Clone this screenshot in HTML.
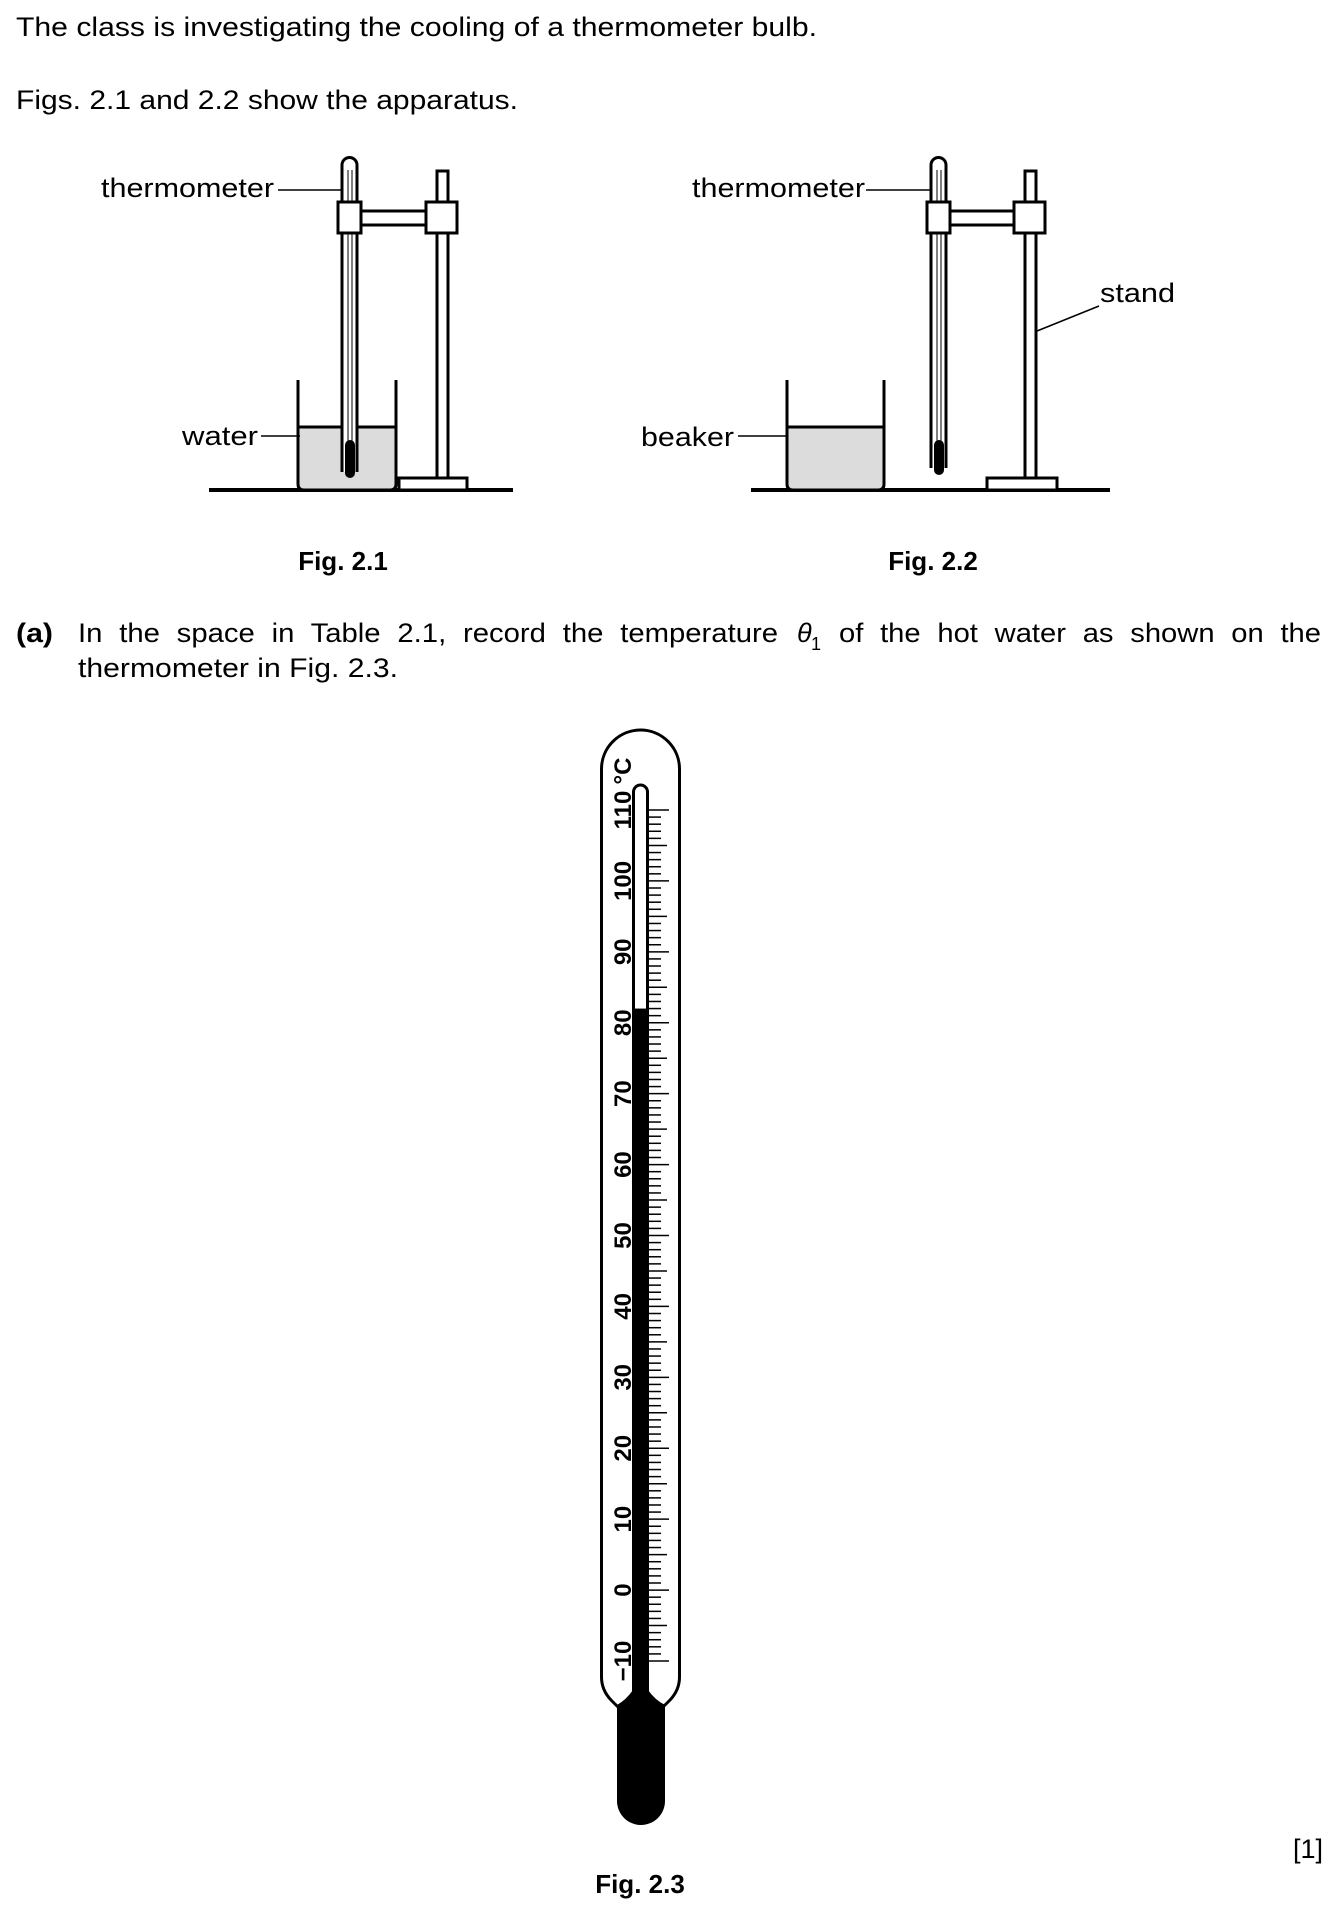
<!DOCTYPE html>
<html><head><meta charset="utf-8"><style>
html,body{margin:0;padding:0;background:#fff;}
svg{display:block;}
text{font-family:"Liberation Sans",Arial,sans-serif;fill:#000;}
</style></head><body>
<svg id="page" width="1341" height="1918" viewBox="0 0 1341 1918" xmlns="http://www.w3.org/2000/svg">
<text x="16" y="36" font-size="27" textLength="801" lengthAdjust="spacingAndGlyphs">The class is investigating the cooling of a thermometer bulb.</text>
<text x="16" y="109" font-size="27" textLength="502" lengthAdjust="spacingAndGlyphs">Figs. 2.1 and 2.2 show the apparatus.</text>

<!-- Fig 2.1 -->
<g stroke="#000" fill="none" stroke-width="3">
  <line x1="209" y1="490" x2="513" y2="490" stroke-width="4"/>
  <rect x="299" y="427" width="97" height="62" fill="#dcdcdc" stroke="none"/>
  <line x1="299" y1="427" x2="396" y2="427"/>
  <path d="M298 380 V484 Q298 490 304 490 H390 Q396 490 396 484 V380"/>
  <path d="M342 472 V165 A7.5 7.5 0 0 1 357 165 V472" fill="#fff"/>
  <line x1="348" y1="170" x2="348" y2="450" stroke-width="1"/>
  <line x1="352" y1="170" x2="352" y2="450" stroke-width="1"/>
  <rect x="345" y="440" width="10" height="38" rx="5" fill="#000" stroke="none"/>
  <rect x="437" y="171" width="11" height="307" fill="#fff"/>
  <rect x="399" y="478" width="68" height="12" fill="#fff"/>
  <rect x="361" y="211" width="65" height="14" fill="#fff"/>
  <rect x="338" y="202" width="23" height="31" fill="#fff"/>
  <rect x="426" y="202" width="31" height="31" fill="#fff"/>
  <line x1="278" y1="190" x2="342" y2="190" stroke-width="1.5"/>
  <line x1="261" y1="436" x2="300" y2="436" stroke-width="1.5"/>
</g>
<text x="101" y="197" font-size="27" textLength="173" lengthAdjust="spacingAndGlyphs">thermometer</text>
<text x="182" y="445" font-size="27" textLength="76" lengthAdjust="spacingAndGlyphs">water</text>
<text x="343" y="570" font-size="26" font-weight="bold" text-anchor="middle">Fig. 2.1</text>

<!-- Fig 2.2 -->
<g stroke="#000" fill="none" stroke-width="3">
  <line x1="751" y1="490" x2="1110" y2="490" stroke-width="4"/>
  <rect x="788" y="427" width="96" height="62" fill="#dcdcdc" stroke="none"/>
  <line x1="788" y1="427" x2="884" y2="427"/>
  <path d="M787 380 V484 Q787 490 793 490 H878 Q884 490 884 484 V380"/>
  <path d="M931 468 V165 A7.5 7.5 0 0 1 946 165 V468" fill="#fff"/>
  <line x1="937" y1="170" x2="937" y2="446" stroke-width="1"/>
  <line x1="941" y1="170" x2="941" y2="446" stroke-width="1"/>
  <rect x="934" y="440" width="10" height="35" rx="5" fill="#000" stroke="none"/>
  <rect x="1025" y="171" width="11" height="307" fill="#fff"/>
  <rect x="987" y="478" width="70" height="12" fill="#fff"/>
  <rect x="950" y="211" width="64" height="14" fill="#fff"/>
  <rect x="927" y="202" width="23" height="31" fill="#fff"/>
  <rect x="1014" y="202" width="31" height="31" fill="#fff"/>
  <line x1="866" y1="190" x2="931" y2="190" stroke-width="1.5"/>
  <line x1="738" y1="436" x2="788" y2="436" stroke-width="1.5"/>
  <line x1="1099" y1="306" x2="1037" y2="331" stroke-width="1.5"/>
</g>
<text x="692" y="197" font-size="27" textLength="173" lengthAdjust="spacingAndGlyphs">thermometer</text>
<text x="641" y="446" font-size="27" textLength="93" lengthAdjust="spacingAndGlyphs">beaker</text>
<text x="1100" y="302" font-size="27" textLength="75" lengthAdjust="spacingAndGlyphs">stand</text>
<text x="933" y="570" font-size="26" font-weight="bold" text-anchor="middle">Fig. 2.2</text>

<!-- question (a) -->
<text x="16" y="642" font-size="27" font-weight="bold" textLength="37" lengthAdjust="spacingAndGlyphs">(a)</text>
<text x="78" y="642" font-size="27" textLength="700" lengthAdjust="spacingAndGlyphs" word-spacing="8">In the space in Table 2.1, record the temperature</text>
<text x="797" y="642" font-size="27" font-family="Liberation Serif" font-style="italic">θ</text>
<text x="811" y="650" font-size="18">1</text>
<text x="839" y="642" font-size="27" textLength="482" lengthAdjust="spacingAndGlyphs" word-spacing="8">of the hot water as shown on the</text>
<text x="78" y="677" font-size="27" textLength="320" lengthAdjust="spacingAndGlyphs">thermometer in Fig. 2.3.</text>

<!-- Fig 2.3 thermometer -->
<g id="thermo">
  <path d="M601.5 1677 V769 A39 39 0 0 1 679.5 769 V1677 Q679.5 1690 670 1700 L662 1708 M601.5 1677 Q601.5 1690 611 1700 L619 1708" fill="#fff" stroke="#000" stroke-width="3"/>
  <path d="M617 1705 Q626 1700 633 1690 V1600 H648 V1690 Q655 1700 665 1705 V1801 A24 24 0 0 1 617 1801 Z" fill="#000"/>
  <path d="M633.5 1700 V792 A7 7 0 0 1 647.5 792 V1700" fill="#fff" stroke="#000" stroke-width="3"/>
  <g id="ticks"></g>
  <text transform="translate(631,771) rotate(-90)" font-size="24" font-weight="bold" text-anchor="middle">°C</text>
</g>

<text x="1323" y="1858" font-size="27" text-anchor="end">[1]</text>
<text x="640" y="1893" font-size="26" font-weight="bold" text-anchor="middle">Fig. 2.3</text>
</svg>
<script>
const scaleMin = [-10];
const scaleMax = [110];
const labelValues = [-10, 0, 10, 20, 30, 40, 50, 60, 70, 80, 90, 100, 110];
const readingValue = [82];

const NS = "http://www.w3.org/2000/svg";
const y0 = 1661, y1 = 810;
function yScale(v){ return y0 + (v - scaleMin[0]) * (y1 - y0) / (scaleMax[0] - scaleMin[0]); }
const g = document.getElementById('ticks');

const merc = document.createElementNS(NS, 'rect');


merc.setAttribute('x', 633);
merc.setAttribute('width', 15);
merc.setAttribute('y', yScale(readingValue[0]));
merc.setAttribute('height', 1702 - yScale(readingValue[0]));
merc.setAttribute('fill', '#000');
g.appendChild(merc);

for (let v = scaleMin[0]; v <= scaleMax[0]; v++) {
  const t = document.createElementNS(NS, 'line');
  
  
  const len = v % 10 === 0 ? 20 : (v % 5 === 0 ? 18 : 12);
  const y = yScale(v);
  t.setAttribute('x1', 649); t.setAttribute('x2', 649 + len);
  t.setAttribute('y1', y); t.setAttribute('y2', y);
  t.setAttribute('stroke', '#000'); t.setAttribute('stroke-width', '1.5');
  g.appendChild(t);
}
labelValues.forEach(v => {
  const tx = document.createElementNS(NS, 'text');
  
  
  tx.setAttribute('transform', 'translate(631,' + yScale(v) + ') rotate(-90)');
  tx.setAttribute('font-size', '24');
  tx.setAttribute('font-weight', 'bold');
  tx.setAttribute('text-anchor', 'middle');
  tx.textContent = v < 0 ? '\u2212' + Math.abs(v) : String(v);
  g.appendChild(tx);
});
</script>
</body></html>
